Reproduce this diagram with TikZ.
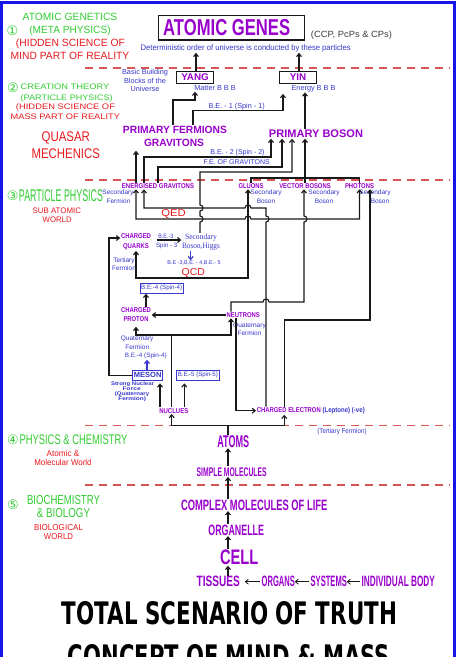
\documentclass[tikz,border=0pt]{standalone}
\usepackage{fontspec}
\usepackage{graphicx}
\setmainfont{Liberation Sans}
\newfontfamily\circfont{DejaVu Sans}
\newfontfamily\titlefont{DejaVu Sans}
\newfontfamily\higgsfont{Liberation Serif}
\usetikzlibrary{arrows.meta}
\definecolor{pur}{RGB}{153,0,204}
\definecolor{grn}{RGB}{50,205,50}
\definecolor{rd}{RGB}{232,25,30}
\definecolor{blu}{RGB}{55,55,205}
\definecolor{dashc}{RGB}{215,85,85}
\definecolor{framec}{RGB}{20,20,235}
\definecolor{ln}{RGB}{25,25,25}
\definecolor{gry}{RGB}{60,60,60}
\newcommand\fitw[2]{\resizebox{#1pt}{\height}{#2}}
\tikzset{
  pT/.style={inner sep=0.6pt, text=pur, font=\fontsize{#1}{#1}\selectfont\bfseries},
  bT/.style={inner sep=0.6pt, text=blu, font=\fontsize{#1}{#1}\selectfont},
  bbT/.style={inner sep=0.6pt, text=blu, font=\fontsize{#1}{#1}\selectfont\bfseries},
  gT/.style={inner sep=0.6pt, text=grn, font=\fontsize{#1}{#1}\selectfont},
  rT/.style={inner sep=0.6pt, text=rd, font=\fontsize{#1}{#1}\selectfont},
  cT/.style={inner sep=0.6pt, text=grn, font=\circfont\fontsize{13}{13}\selectfont},
  gbox/.style={draw=ln, line width=1.2pt, inner sep=0pt},
  bbox/.style={draw=blu, line width=0.8pt, inner sep=0pt, text=blu, font=\fontsize{6.3}{6.3}\selectfont},
  con/.style={draw=ln, line width=1.1pt},
  arr/.style={draw=ln, line width=1.1pt, -{Straight Barb[length=3pt,width=5pt]}},
  arrb/.style={draw=ln, line width=1.1pt, {Straight Barb[length=3pt,width=5pt]}-{Straight Barb[length=3pt,width=5pt]}},
  barr/.style={draw=blu, line width=1.1pt, -{Straight Barb[length=3pt,width=5pt]}},
  harr/.style={draw=ln, line width=0.8pt, -{Straight Barb[length=3pt,width=5pt]}},
  dsh/.style={draw=dashc, line width=1.8pt, dash pattern=on 8pt off 6pt},
}
\begin{document}
\begin{tikzpicture}[x=1pt,y=-1pt]
\useasboundingbox (0,0) rectangle (460,657);
\fill[white] (0,0) rectangle (460,657);
\draw[framec, line width=3pt] (1.5,2.5) rectangle (454.5,720);

% red dashed separators
\draw[dsh] (85,68) -- (450,68);
\draw[dsh] (85,180) -- (450,180);
\draw[dsh] (85,425.5) -- (450,425.5);
\draw[dsh] (85,485.3) -- (450,485.3);

% ---------- left column ----------
\node[gT=10.5] (lg1) at (70,17) {\fitw{94.7}{ATOMIC GENETICS}};
\node[cT] (c1) at (12.5,30.5) {①};
\node[gT=10.5] (lg2) at (70,30.7) {\fitw{81.3}{(META PHYSICS)}};
\node[rT=10.5] (lr1) at (70.5,43.3) {\fitw{109}{(HIDDEN SCIENCE OF}};
\node[rT=10.5] (lr2) at (70,56) {\fitw{118.7}{MIND PART OF REALITY}};

\node[cT] (c2) at (13,87.5) {②};
\node[gT=8] (lg3) at (65,86.8) {\fitw{88.6}{CREATION THEORY}};
\node[gT=8] (lg4) at (66.7,98.2) {\fitw{92}{(PARTICLE PHYSICS)}};
\node[rT=8] (lr3) at (65.5,107.6) {\fitw{99}{(HIDDEN SCIENCE OF}};
\node[rT=8] (lr4) at (65.3,116.8) {\fitw{109.3}{MASS PART OF REALITY}};

\node[rT=14] (q1) at (65.8,138.3) {\fitw{48.3}{QUASAR}};
\node[rT=14] (q2) at (65.8,153.3) {\fitw{68.3}{MECHENICS}};

\node[cT] (c3) at (12.8,196) {③};
\node[gT=17] (lg5) at (61,196) {\fitw{84}{PARTICLE PHYSICS}};
\node[rT=8] (sa1) at (56.8,211) {\fitw{48.3}{SUB ATOMIC}};
\node[rT=8] (sa2) at (57.2,220) {\fitw{29}{WORLD}};

\node[cT] (c4) at (13,440) {④};
\node[gT=14] (lg6) at (73.5,440) {\fitw{108}{PHYSICS \& CHEMISTRY}};
\node[rT=8.5] (am1) at (63,453.3) {\fitw{32.7}{Atomic \&}};
\node[rT=8.5] (am2) at (63,462.7) {\fitw{57.3}{Molecular World}};

\node[cT] (c5) at (13,505) {⑤};
\node[gT=13] (lg7) at (63.5,500) {\fitw{73}{BIOCHEMISTRY}};
\node[gT=13] (lg8) at (63.5,513) {\fitw{53}{\& BIOLOGY}};
\node[rT=8.5] (bw1) at (58.5,528) {\fitw{49}{BIOLOGICAL}};
\node[rT=8.5] (bw2) at (58.5,537) {\fitw{29}{WORLD}};

% ---------- top ----------
\node[gbox, minimum width=146pt, minimum height=24.3pt, text=pur,
      font=\fontsize{23}{23}\selectfont\bfseries] (ag) at (231.2,27.9)
      {\fitw{127}{ATOMIC GENES}\hspace*{9pt}};
\node[inner sep=0.6pt, text=gry, font=\fontsize{9}{9}\selectfont] (ccp) at (351.5,35) {\fitw{81}{(CCP, PcPs \& CPs)}};
\node[bT=8] (det) at (245.7,48.3) {\fitw{210}{Deterministic order of universe is conducted by these particles}};

\node[gbox, minimum width=36.6pt, minimum height=11.6pt, text=pur,
      font=\fontsize{9.8}{9.8}\selectfont\bfseries] (yang) at (195,77.5) {YANG};
\node[gbox, minimum width=36.6pt, minimum height=11.6pt, text=pur,
      font=\fontsize{9.8}{9.8}\selectfont\bfseries] (yin) at (298,77.5) {YIN};
\draw[arr] ([xshift=1pt]yang.north) -- ([xshift=-49.7pt]det.south);
\draw[arr] ([xshift=1pt]yin.north) -- ([xshift=53.3pt]det.south);

\node[bT=7.3] (bb1) at (145,72.7) {Basic Building};
\node[bT=7.3] (bb2) at (145,81) {Blocks of the};
\node[bT=7.3] (bb3) at (145,89.3) {Universe};
\node[bT=7.3] (matter) at (215,88.3) {Matter B B B};
\node[bT=7.3] (energy) at (313.5,88.3) {Energy B B B};
\node[bT=7.3] (be1) at (236.7,106.3) {B.E. - 1 (Spin - 1)};

\node[pT=10.5] (pf) at (175,129.5) {\fitw{104}{PRIMARY FERMIONS}};
\node[pT=10.5] (pfg) at (174,143.3) {\fitw{60}{GRAVITONS}};
\node[pT=11] (pb) at (316,134) {\fitw{94}{PRIMARY BOSON}};

\draw[arr] ([xshift=-2pt]pf.north) -- (173,100) -- (195,100) -- ([xshift=-20pt]matter.south);
\draw[arr] ([xshift=18pt]pf.north) -- (193,110.5) -- (283,110.5) -- ([xshift=-15pt,yshift=-10pt]yin.south);
\draw[arr] ([xshift=-11pt]pb.north) -- ([xshift=-8.5pt]energy.south);

% ---------- particle physics row ----------
\node[pT=7] (eg) at (158,186) {\fitw{72}{ENERGISED GRAVITONS}};
\node[bT=6.5] (sf1) at (118,193.3) {Secondary};
\node[bT=6.5] (sf2) at (118.5,201) {Fermion};
\node[pT=7] (gl) at (251,186) {\fitw{25}{GLUONS}};
\node[bT=6.5] (gs1) at (266,193.3) {Secondary};
\node[bT=6.5] (gs2) at (266,201) {Boson};
\node[pT=7] (vb) at (305,186) {\fitw{51.4}{VECTOR BOSONS}};
\node[bT=6.5] (vs1) at (324,193.3) {Secondary};
\node[bT=6.5] (vs2) at (324,201) {Boson};
\node[pT=7] (ph) at (359.5,186) {\fitw{29}{PHOTONS}};
\node[bT=6.5] (ps1) at (375,193.3) {Secondary};
\node[bT=6.5] (ps2) at (380,201) {Boson};

\node[bT=7] (be2) at (237.5,152.8) {B.E. - 2 (Spin - 2)};
\node[bT=7] (fe) at (236.7,162.3) {F.E. OF GRAVITONS};

\draw[arr] ([xshift=-22pt]eg.north) -- ([xshift=-38pt,yshift=-3pt]pfg.south);
\draw[arr] ([xshift=-14pt]eg.north) -- (144,157) -- (271,157) -- ([xshift=-45pt]pb.south);
\draw[arr] (eg.north) -- (158,167) -- (282,167) -- ([xshift=-34pt]pb.south);
\draw[con] (gl.north) -- (251,178) -- (359.5,178) -- (ph.north);
\draw[arr] (vb.north) -- ([xshift=-11pt]pb.south);

% quarks / higgs
\node[inner sep=0.6pt, text=pur, align=center, font=\fontsize{7}{10}\selectfont\bfseries] (cq) at (136,242)
  {\fitw{30}{CHARGED}\\\fitw{26}{QUARKS}};
\node[bT=6.5] (tf1) at (124,261.3) {Tertiary};
\node[bT=6.5] (tf2) at (124,268.5) {Fermion};
\node[inner sep=0.6pt, text=blu, align=center, font=\higgsfont\fontsize{8}{9.3}\selectfont] (higgs) at (201,242)
  {\fitw{31.7}{Secondary}\\\fitw{37.7}{Boson,Higgs}};
\node[bT=6.3] (be3) at (165.8,236.3) {\fitw{15}{B.E.-3}};
\node[bT=6.3] (sp3) at (166.7,246) {\fitw{21.3}{Spin - 3}};
\node[bT=5.5] (be345) at (194,263.3) {\fitw{53.3}{B.E -3,B.E. - 4,B.E.- 5}};
\node[rT=10] (qcd) at (193.3,273.3) {\fitw{23.3}{QCD}};
\node[rT=10] (qed) at (173.5,213.8) {\fitw{24.5}{QED}};

\draw[arr] ([xshift=5pt,yshift=2pt]cq.east) -- ([yshift=2pt]higgs.west);
\draw[barr] ([xshift=-10.3pt]higgs.south) -- ([xshift=-3.3pt]be345.north);

% Higgs to primary boson (hops over two lines)
\draw[arr] ([xshift=-1pt]higgs.north) -- (200,222) .. controls (204,222) and (204,216) .. (200,216)
  -- (200,211) .. controls (204,211) and (204,205) .. (200,205) -- (200,172) -- (292,172) -- ([xshift=-24pt]pb.south);

% QED bracket
\draw[arrb] ([xshift=-22pt]eg.south) -- (136,219) -- (245,219) .. controls (245,215) and (251,215) .. (251,219)
  -- (359.5,219) -- (ph.south);

% QCD bracket
\draw[arrb] (cq.south) -- (136,278) -- (248,278) -- ([xshift=-3pt]gl.south);

% proton / neutrons
\node[bbox, minimum width=43.3pt, minimum height=10pt] (be4) at (161.7,288.3) {\fitw{41}{B.E.-4 (Spin-4)}};
\node[inner sep=0.6pt, text=pur, align=center, font=\fontsize{7}{9}\selectfont\bfseries] (cp) at (136,315)
  {\fitw{30}{CHARGED}\\\fitw{25}{PROTON}};
\node[pT=7] (nt) at (243.3,315) {\fitw{33.3}{NEUTRONS}};
\node[bT=6.5] (nq1) at (249.5,325.7) {Quaternary};
\node[bT=6.5] (nq2) at (249.5,333.3) {Fermion};
\node[bT=6.5] (pq1) at (137.2,339.3) {Quaternary};
\node[bT=6.5] (pq2) at (137.2,346.7) {Fermion};
\node[bT=6.3] (be4b) at (145.8,356) {\fitw{41.7}{B.E.-4 (Spin-4)}};
\node[bbox, minimum width=30pt, minimum height=9.3pt, font=\fontsize{7.5}{7.5}\selectfont\bfseries] (meson) at (147.7,375.3) {MESON};
\node[bbox, minimum width=42.3pt, minimum height=9.3pt] (be5) at (197.8,375.3) {\fitw{40}{B.E.-5 (Spin-5)}};
\node[bbT=5.2] (sn1) at (132.5,384) {\fitw{43}{Strong Nuclear}};
\node[bbT=5.2] (sn2) at (131.7,388.8) {\fitw{18}{Force}};
\node[bbT=5.2] (sn3) at (132,394) {\fitw{34.3}{(Quaternary}};
\node[bbT=5.2] (sn4) at (132.2,399) {\fitw{27.7}{Fermion)}};
\node[pT=7] (nuc) at (173.8,410.7) {\fitw{29}{NUCLUES}};
\node[inner sep=0.6pt, anchor=west, font=\fontsize{7}{7}\selectfont\bfseries] (ce) at (256,410.7)
  {\textcolor{pur}{\fitw{64}{CHARGED ELECTRON}}\hspace{1.7pt}\textcolor{blu}{\fitw{42.3}{(Leptone) (-ve)}}};
\node[bT=7] (tfe) at (342,431.7) {\fitw{49.3}{(Tertiary Fermion)}};

\draw[arr] ([xshift=10pt]cp.north) -- ([xshift=-15.7pt]be4.south);
\draw[arr] (nt.west) -- (cp.east);
\draw[arr] ([xshift=-2.1pt]nuc.north) -- (171.7,335) -- (136,335) -- ([yshift=-4pt]cp.south);
\coordinate (nj) at (171.7,335);
\draw[arr] (nj) -- (231,335) -- ([xshift=-12.3pt]nt.south);
\draw[arr] (meson.west) -- (109,375.3) -- (109,238) -- ([yshift=4pt]cq.west);
\draw[barr] ([xshift=-0.7pt]meson.north) -- ([xshift=1.2pt]be4b.south);
\draw[arr] ([xshift=-13.8pt]nuc.north) -- ([xshift=12.3pt,yshift=-3pt]meson.south);
\draw[arr] ([xshift=10.5pt]nuc.north) -- ([xshift=-13.5pt,yshift=-3pt]be5.south);

% neutrons to vector bosons
\draw[arr] ([xshift=-12.3pt]nt.north) -- (231,302) -- (263,302) .. controls (263,298) and (269,298) .. (269,302)
  -- (304,302) -- (304,222) .. controls (308,222) and (308,216) .. (304,216) -- ([xshift=-1pt]vb.south);
% neutrons to electron
\draw[arr] ([xshift=-7.3pt]nt.south) -- (236,410.7) -- (ce.west);
% electron to energised gravitons
\draw[arr] ([xshift=10pt]ce.north west) -- (266,222) .. controls (270,222) and (270,216) .. (266,216)
  -- (266,208) -- (251,208) .. controls (251,204) and (245,204) .. (245,208) -- (144,208) -- ([xshift=-14pt]eg.south);
% electron to photons
\draw[arr] ([xshift=28.3pt]ce.north west) -- (284.3,320) -- (370,320) -- ([xshift=10.5pt]ph.south);

% ---------- atoms and below ----------
\node[pT=17] (atoms) at (233.3,441.5) {\fitw{32}{ATOMS}};
\coordinate (aj) at (228,425.3);
\draw[con] ([xshift=-5.3pt]atoms.north) -- (aj);
\draw[arr] (aj) -- (171.7,425.3) -- ([xshift=-2.1pt]nuc.south);
\draw[arr] (aj) -- (284.3,425.3) -- ([xshift=28.3pt]ce.south west);

\node[pT=12.5] (sm) at (231.7,471.7) {\fitw{70}{SIMPLE MOLECULES}};
\node[pT=15] (cm) at (254.2,505) {\fitw{146.3}{COMPLEX MOLECULES OF LIFE}};
\node[pT=15] (og) at (236.2,530) {\fitw{55.7}{ORGANELLE}};
\node[pT=21] (cell) at (239.2,557.5) {\fitw{38.3}{CELL}};
\node[pT=15] (ts) at (218.3,581.7) {\fitw{43.3}{TISSUES}};
\node[pT=15] (organs) at (278.3,581.7) {\fitw{33.3}{ORGANS}};
\node[pT=15] (sys) at (328.8,581.7) {\fitw{36.3}{SYSTEMS}};
\node[pT=15] (body) at (398.3,581.7) {\fitw{73.3}{INDIVIDUAL BODY}};

\draw[arr] ([xshift=-3.7pt]sm.north) -- ([xshift=-5.3pt]atoms.south);
\draw[arr] ([xshift=-26.2pt]cm.north) -- ([xshift=-3.7pt]sm.south);
\draw[arr] ([xshift=-8.2pt]og.north) -- ([xshift=-26.2pt]cm.south);
\draw[arr] ([xshift=-11.2pt]cell.north) -- ([xshift=-8.2pt]og.south);
\draw[arr] ([xshift=9.7pt]ts.north) -- ([xshift=-11.2pt]cell.south);
\draw[harr] ([xshift=-1pt]organs.west) -- ([xshift=4pt]ts.east);
\draw[harr] ([xshift=-1pt]sys.west) -- ([xshift=-1pt]organs.east);
\draw[harr] ([xshift=-1pt]body.west) -- ([xshift=-1pt]sys.east);

% ---------- title ----------
\node[inner sep=0.6pt, font=\titlefont\fontsize{31}{31}\selectfont\bfseries] (tt1) at (229.5,613.5) {\fitw{335}{TOTAL SCENARIO OF TRUTH}};
\node[inner sep=0.6pt, font=\titlefont\fontsize{31}{31}\selectfont\bfseries] (tt2) at (229,656.5) {\fitw{322}{CONCEPT OF MIND \& MASS}};
\end{tikzpicture}
\end{document}
